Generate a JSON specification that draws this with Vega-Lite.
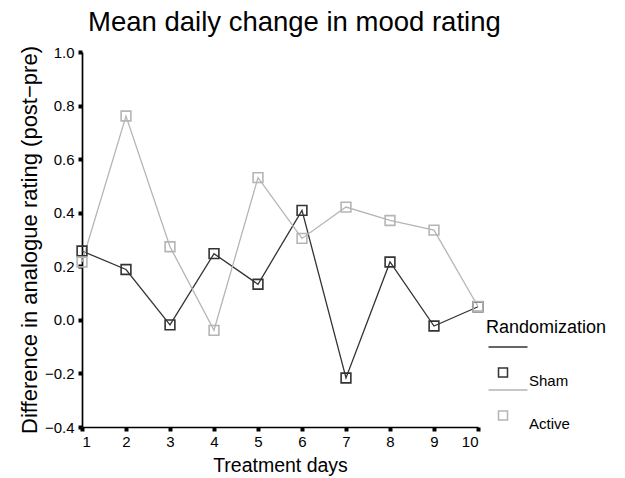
{
  "$schema": "https://vega.github.io/schema/vega-lite/v6.json",
  "width": 396,
  "height": 375,
  "autosize": "none",
  "padding": {"left": 82, "top": 52, "right": 147, "bottom": 51},
  "background": "white",
  "config": {
    "font": "Liberation Sans",
    "view": {"stroke": null},
    "axis": {"grid": false, "domainColor": "black", "domainWidth": 1.7, "tickColor": "black", "tickWidth": 4, "tickSize": 4, "labelFontSize": 15, "labelColor": "black", "titleFontSize": 19.5, "titleFontWeight": "normal", "titleColor": "black"}
  },
  "title": {"text": "Mean daily change in mood rating", "fontSize": 27.5, "fontWeight": "normal", "anchor": "start", "frame": "group", "dx": 6, "offset": 9, "color": "black"},
  "data": {"values": [
    {"day": 1, "group": "Sham", "value": 0.257},
    {"day": 2, "group": "Sham", "value": 0.188},
    {"day": 3, "group": "Sham", "value": -0.019},
    {"day": 4, "group": "Sham", "value": 0.247},
    {"day": 5, "group": "Sham", "value": 0.133},
    {"day": 6, "group": "Sham", "value": 0.409},
    {"day": 7, "group": "Sham", "value": -0.217},
    {"day": 8, "group": "Sham", "value": 0.216},
    {"day": 9, "group": "Sham", "value": -0.023},
    {"day": 10, "group": "Sham", "value": 0.049},
    {"day": 1, "group": "Active", "value": 0.216},
    {"day": 2, "group": "Active", "value": 0.761},
    {"day": 3, "group": "Active", "value": 0.273},
    {"day": 4, "group": "Active", "value": -0.039},
    {"day": 5, "group": "Active", "value": 0.531},
    {"day": 6, "group": "Active", "value": 0.304},
    {"day": 7, "group": "Active", "value": 0.421},
    {"day": 8, "group": "Active", "value": 0.371},
    {"day": 9, "group": "Active", "value": 0.335},
    {"day": 10, "group": "Active", "value": 0.05}
  ]},
  "encoding": {
    "x": {"field": "day", "type": "quantitative", "scale": {"domain": [1, 10], "nice": false, "zero": false},
          "axis": {"values": [1,2,3,4,5,6,7,8,9,10], "title": "Treatment days", "labelPadding": 3, "titlePadding": 7}},
    "y": {"field": "value", "type": "quantitative", "scale": {"domain": [-0.4, 1.0], "nice": false},
          "axis": {"values": [-0.4,-0.2,0,0.2,0.4,0.6,0.8,1.0], "format": ".1f", "title": "Difference in analogue rating (post−pre)", "titleFontSize": 22, "labelPadding": 4, "titlePadding": 3}},
    "color": {"field": "group", "type": "nominal",
              "scale": {"domain": ["Sham", "Active"], "range": ["#333333", "#b5b5b5"]},
              "legend": {"title": "Randomization", "orient": "none", "legendX": 404, "legendY": 267,
                         "titleFontSize": 18, "titleFontWeight": "normal", "titleColor": "black", "titlePadding": 36,
                         "labelFontSize": 15, "labelColor": "black", "labelOffset": 28,
                         "symbolType": "M1.25,-3.1 L3.5,-3.1 L3.5,-0.9 L1.25,-0.9 Z M-1.25,-8.4 L8.5,-8.4",
                         "symbolSize": 64, "symbolStrokeWidth": 1.5, "symbolFillColor": "transparent", "rowPadding": -3}}
  },
  "layer": [
    {"mark": {"type": "line", "strokeWidth": 1.3}},
    {"mark": {"type": "point", "shape": "square", "filled": false, "size": 95, "strokeWidth": 1.6, "opacity": 1}}
  ]
}
